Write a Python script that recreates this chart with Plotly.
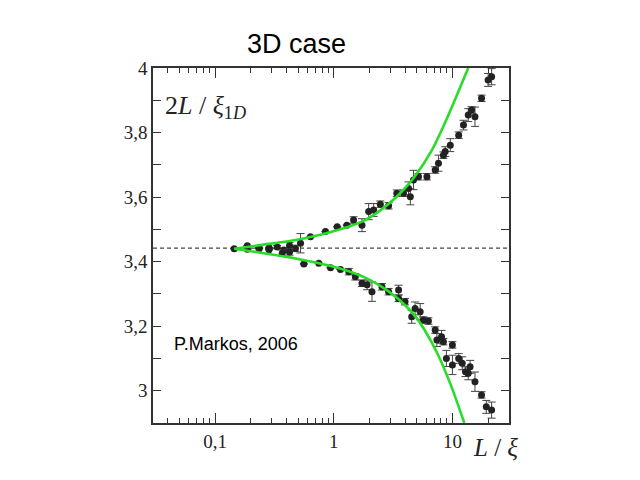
import plotly.graph_objects as go

# ---- data ----
upper_x = [0.145, 0.187, 0.235, 0.285, 0.334, 0.38, 0.424, 0.476, 0.525, 0.637, 0.852, 1.07,
           1.29, 1.47, 1.73, 1.97, 2.17, 2.47, 2.9, 3.4, 3.87, 4.27, 4.42, 4.7, 5.18, 6.1,
           7.16, 7.63, 8.4, 8.7, 9.6, 11.3, 12.4, 13.6, 14.5, 15.5, 17.6, 20.0, 21.4]
upper_y = [3.44, 3.449, 3.443, 3.443, 3.445, 3.436, 3.449, 3.441, 3.457, 3.477, 3.493, 3.508,
           3.513, 3.529, 3.513, 3.555, 3.56, 3.578, 3.573, 3.612, 3.612, 3.627, 3.601, 3.653,
           3.663, 3.663, 3.684, 3.705, 3.73, 3.741, 3.761, 3.792, 3.823, 3.854, 3.87, 3.849,
           3.906, 3.963, 3.973]
upper_err = [0, 0, 0, 0, 0.005, 0.005, 0.01, 0.01, 0.03, 0, 0, 0,
             0, 0.01, 0.02, 0.025, 0.02, 0.01, 0.01, 0.01, 0.01, 0.02, 0.025, 0.03,
             0.01, 0.01, 0.01, 0.025, 0.01, 0.015, 0.02, 0.01, 0.015, 0.02, 0.01, 0.03,
             0.01, 0.02, 0.025]

lower_x = [0.187, 0.235, 0.285, 0.368, 0.424, 0.56, 0.748, 0.94, 1.14, 1.34, 1.52, 1.73, 1.91,
           2.1, 2.55, 2.9, 3.52, 3.52, 3.99, 4.54, 4.85, 5.35, 5.7, 6.28, 7.16, 7.4, 8.1,
           8.4, 8.9, 10.0, 10.0, 11.3, 12.1, 12.9, 13.6, 14.1, 15.5, 17.6, 19.3, 21.4]
lower_y = [3.438, 3.44, 3.437, 3.426, 3.43, 3.393, 3.395, 3.381, 3.376, 3.369, 3.353, 3.333,
           3.328, 3.307, 3.322, 3.307, 3.312, 3.286, 3.276, 3.229, 3.255, 3.245, 3.219,
           3.216, 3.188, 3.157, 3.167, 3.152, 3.10, 3.142, 3.08, 3.10, 3.085, 3.059,
           3.054, 3.074, 3.028, 2.987, 2.95, 2.94]
lower_err = [0, 0, 0, 0.01, 0.01, 0, 0, 0, 0, 0.01, 0.01, 0.01, 0.015,
             0.03, 0.01, 0.01, 0.015, 0.01, 0.01, 0.02, 0.02, 0.025, 0.01,
             0.01, 0.01, 0.02, 0.02, 0.01, 0.025, 0.01, 0.03, 0.015, 0.02, 0.015,
             0.02, 0.02, 0.03, 0.01, 0.02, 0.025]

fit_up_x = [0.145, 0.25, 0.48, 0.91, 1.73, 2.39, 3.3, 4.27, 4.85, 6.7, 9.15, 13.6]
fit_up_y = [3.44, 3.452, 3.467, 3.49, 3.524, 3.555, 3.597, 3.64, 3.665, 3.745, 3.85, 4.0]

fit_lo_x = [0.145, 0.25, 0.476, 0.91, 1.34, 1.97, 2.9, 4.0, 5.0, 5.9, 7.6, 10.0, 12.6]
fit_lo_y = [3.44, 3.427, 3.41, 3.388, 3.37, 3.345, 3.308, 3.265, 3.225, 3.185, 3.11,
            3.005, 2.9]

dash_level = 3.442

x_major_ticks = [0.1, 1, 10]
x_major_text = ["0,1", "1", "10"]
x_minor_ticks = [0.04, 0.05, 0.06, 0.07, 0.08, 0.09, 0.2, 0.3, 0.4, 0.5, 0.6, 0.7, 0.8, 0.9,
                 2, 3, 4, 5, 6, 7, 8, 9, 20]
y_tickvals = [3.0, 3.2, 3.4, 3.6, 3.8, 4.0]
y_ticktext = ["3", "3,2", "3,4", "3,6", "3,8", "4"]

GREEN = "rgb(40,220,40)"
INK = "#222222"
LINE = "#333333"
X_RANGE = [-1.523, 1.477]

fig = go.Figure()

fig.add_hline(y=dash_level, line=dict(color="#444444", width=1.2, dash="4px,3px"), layer="below")

for xs, ys, es in [(upper_x, upper_y, upper_err), (lower_x, lower_y, lower_err)]:
    fig.add_trace(go.Scatter(
        x=xs, y=ys, mode="markers",
        marker=dict(color=INK, size=7, symbol="circle"),
        error_y=dict(type="data", array=es, visible=True, color="#444444",
                     thickness=1, width=4),
        showlegend=False, hoverinfo="skip"))

# the fitted curves live on an overlaid (identical) log axis that carries the long major ticks
for xs, ys in [(fit_up_x, fit_up_y), (fit_lo_x, fit_lo_y)]:
    fig.add_trace(go.Scatter(
        x=xs, y=ys, mode="lines", xaxis="x2",
        line=dict(color=GREEN, width=2.6, shape="spline", smoothing=0.6),
        showlegend=False, hoverinfo="skip"))

# main x axis: all tick positions (short), labels only at the decades
all_x_ticks = x_major_ticks + x_minor_ticks
all_x_text = x_major_text + [""] * len(x_minor_ticks)

fig.update_layout(
    xaxis=dict(type="log", range=X_RANGE, tickmode="array", tickvals=all_x_ticks,
               ticktext=all_x_text, ticks="inside", ticklen=5, tickwidth=1,
               tickcolor=LINE, showline=True, linecolor=LINE, linewidth=1.5,
               mirror="allticks", showgrid=False, zeroline=False,
               tickfont=dict(family="Liberation Serif", size=19, color=INK)),
    xaxis2=dict(type="log", range=X_RANGE, overlaying="x", side="bottom",
                tickmode="array", tickvals=x_major_ticks, showticklabels=False,
                ticks="inside", ticklen=10, tickwidth=1.2, tickcolor=LINE,
                showline=False, mirror="ticks", showgrid=False, zeroline=False),
    yaxis=dict(range=[2.9, 4.0], tickmode="array", tickvals=y_tickvals, ticktext=y_ticktext,
               ticks="inside", ticklen=8, tickwidth=1.2, tickcolor=LINE,
               minor=dict(ticks="inside", ticklen=7, dtick=0.1, tickcolor=LINE,
                          tickwidth=1, showgrid=False),
               showline=True, linecolor=LINE, linewidth=1.5, mirror="allticks",
               showgrid=False, zeroline=False,
               tickfont=dict(family="Liberation Serif", size=19, color=INK)),
)

# pixel -> paper coordinate helpers for the free texts
ML, MR, MT, MB = 153, 131, 68, 57
pw, ph = 640 - ML - MR, 480 - MT - MB


def px(xp):
    return (xp - ML) / pw


def py(yp):
    return (480 - MB - yp) / ph


fig.update_layout(
    width=640, height=480,
    margin=dict(l=ML, r=MR, t=MT, b=MB),
    paper_bgcolor="white", plot_bgcolor="white",
    showlegend=False,
    annotations=[
        dict(text="3D case", x=px(296), y=py(44), xref="paper", yref="paper",
             showarrow=False, xanchor="center", yanchor="middle",
             font=dict(family="Liberation Sans", size=27, color="black")),
        dict(text="P.Markos, 2006", x=px(172), y=py(344), xref="paper", yref="paper",
             showarrow=False, xanchor="left", yanchor="middle",
             font=dict(family="Liberation Sans", size=18, color="black")),
        dict(text="2<i>L</i> / <i>ξ</i><sub>1<i>D</i></sub>", x=px(163), y=py(107),
             xref="paper", yref="paper", showarrow=False, xanchor="left", yanchor="middle",
             font=dict(family="Liberation Serif", size=26, color=INK)),
        dict(text="<i>L</i> / <i>ξ</i>", x=px(471), y=py(448), xref="paper", yref="paper",
             showarrow=False, xanchor="left", yanchor="middle",
             font=dict(family="Liberation Serif", size=25, color=INK)),
    ],
)

fig.write_html("out.html")
